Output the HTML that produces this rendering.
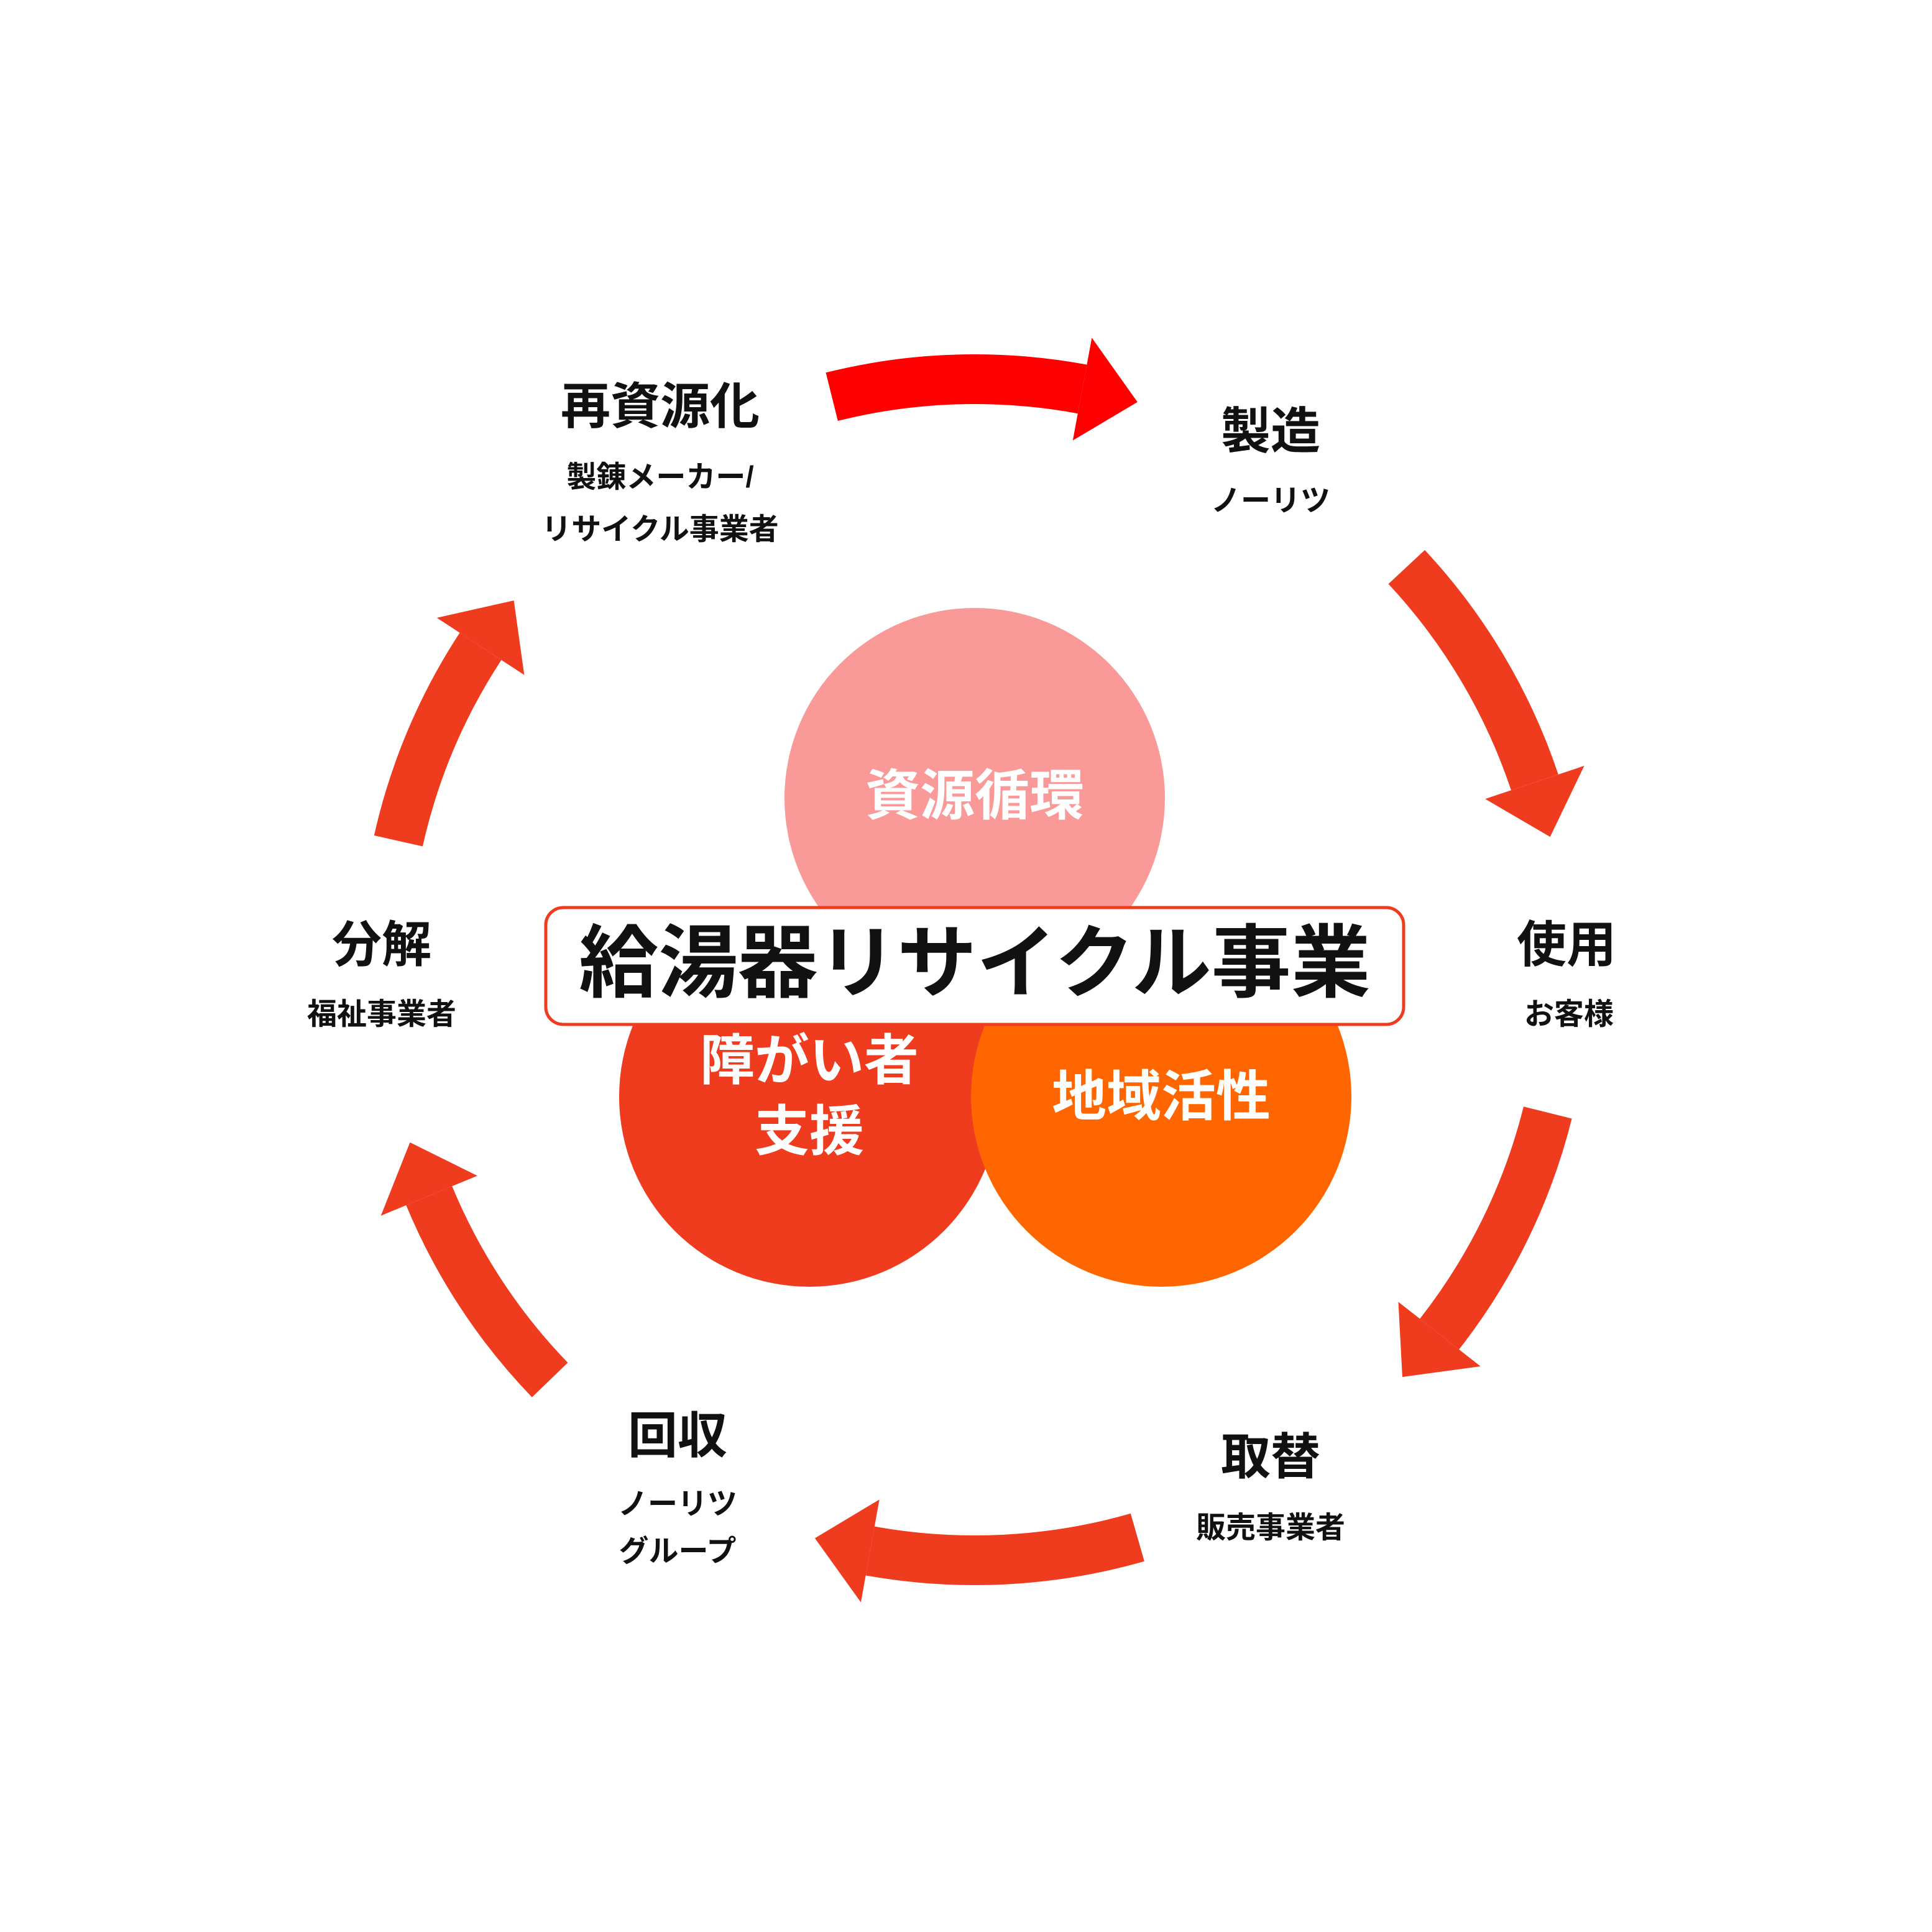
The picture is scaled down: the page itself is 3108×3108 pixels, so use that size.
<!DOCTYPE html>
<html><head><meta charset="utf-8">
<style>
html,body{margin:0;padding:0;background:#fff;overflow:hidden;width:3108px;height:3108px;}
svg{display:block;}
text{font-family:"Liberation Sans","Noto Sans CJK JP",sans-serif;font-weight:bold;text-anchor:middle;dominant-baseline:central;}
</style></head>
<body>
<svg id="s" width="3108" height="3108" viewBox="0 0 1554 1554" xmlns="http://www.w3.org/2000/svg">
<rect width="1554" height="1554" fill="#fff"/>
<g id="arrows"></g>
<circle cx="784" cy="642" r="153" fill="#F99A98"/>
<circle cx="651" cy="882" r="153" fill="#EF3B1E"/>
<circle cx="934" cy="882" r="153" fill="#FF6600"/>
<text x="784" y="640" font-size="44" fill="#fff">資源循環</text>
<text x="651" y="853" font-size="44" fill="#fff">障がい者</text>
<text x="651" y="910" font-size="44" fill="#fff">支援</text>
<text x="934" y="882" font-size="44" fill="#fff">地域活性</text>
<rect x="439" y="730" width="690" height="94" rx="14" fill="#fff" stroke="#EF3B1E" stroke-width="2.5"/>
<text x="784" y="775" font-size="64" fill="#111">給湯器リサイクル事業</text>

<text x="531" y="327" font-size="40" fill="#111">再資源化</text>
<text x="531" y="384" font-size="24" fill="#111">製錬メーカー/</text>
<text x="531" y="426" font-size="24" fill="#111">リサイクル事業者</text>
<text x="1022" y="347" font-size="40" fill="#111">製造</text>
<text x="1022" y="403" font-size="24" fill="#111">ノーリツ</text>
<text x="1260" y="760" font-size="40" fill="#111">使用</text>
<text x="1262" y="816" font-size="24" fill="#111">お客様</text>
<text x="1022" y="1172" font-size="40" fill="#111">取替</text>
<text x="1022" y="1229" font-size="24" fill="#111">販売事業者</text>
<text x="545" y="1155" font-size="40" fill="#111">回収</text>
<text x="545" y="1210" font-size="24" fill="#111">ノーリツ</text>
<text x="545" y="1248" font-size="24" fill="#111">グループ</text>
<text x="307" y="760" font-size="40" fill="#111">分解</text>
<text x="307" y="816" font-size="24" fill="#111">福祉事業者</text>
</svg>
<script>
(function(){
var cx=784,cy=780,R=475,hw=20,hh=42,h=5.5;
var g=document.getElementById('arrows');
function P(a,r){var t=a*Math.PI/180;return [cx+r*Math.cos(t),cy+r*Math.sin(t)];}
function arrow(a0,a1,col){
  var s=a1>a0?1:-1, ab=a1-s*h;
  var p0o=P(a0,R+hw),p1o=P(ab,R+hw),p1i=P(ab,R-hw),p0i=P(a0,R-hw);
  var sw=s>0?1:0;
  var d='M'+p0o+' A'+(R+hw)+' '+(R+hw)+' 0 0 '+sw+' '+p1o+' L'+p1i+' A'+(R-hw)+' '+(R-hw)+' 0 0 '+(1-sw)+' '+p0i+' Z';
  var path=document.createElementNS('http://www.w3.org/2000/svg','path');
  path.setAttribute('d',d);path.setAttribute('fill',col);g.appendChild(path);
  var b1=P(ab,R+hh),b2=P(ab,R-hh),tp=P(a1,R);
  var tri=document.createElementNS('http://www.w3.org/2000/svg','polygon');
  tri.setAttribute('points',b1+' '+tp+' '+b2);tri.setAttribute('fill',col);g.appendChild(tri);
}
arrow(-104,-74,'#FF0000');
arrow(-43,-13,'#EF3B1E');
arrow(14,43.6,'#EF3B1E');
arrow(74,105.7,'#EF3B1E');
arrow(136,163,'#EF3B1E');
arrow(192.6,218.7,'#EF3B1E');
})();
</script>
</body></html>
